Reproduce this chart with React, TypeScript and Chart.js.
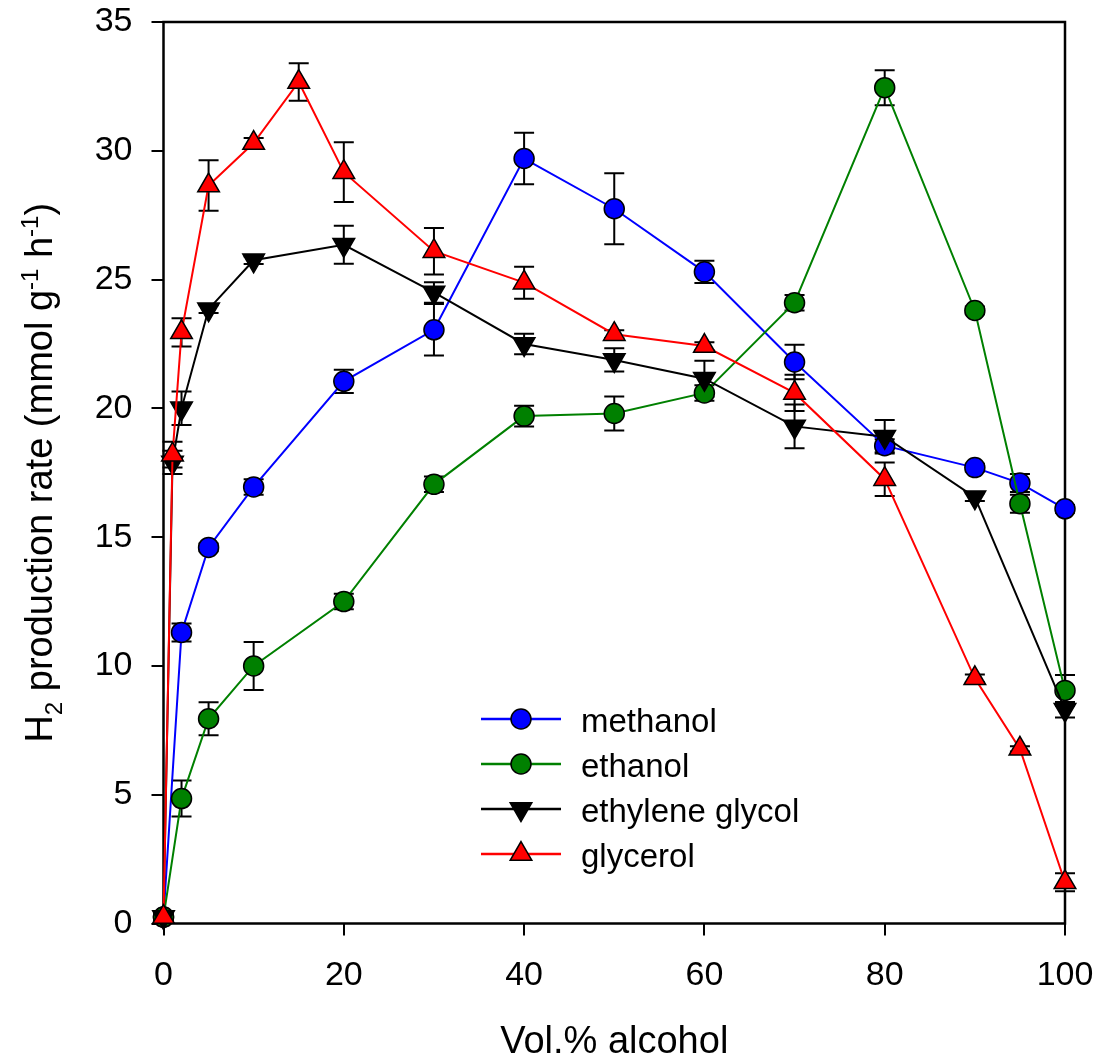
import React, { useEffect, useRef } from "react";
import { Chart, registerables } from "chart.js";

Chart.register(...registerables);

// ---------- data ----------
const methanolX = [0, 2, 5, 10, 20, 30, 40, 50, 60, 70, 80, 90, 95, 100];
const methanolY = [0.25, 11.3, 14.6, 16.95, 21.05, 23.05, 29.7, 27.75, 25.3, 21.8, 18.55, 17.7, 17.1, 16.1];
const methanolErr = [0.1, 0.35, 0.15, 0.3, 0.45, 1.0, 1.0, 1.38, 0.43, 0.67, 0.25, 0.15, 0.35, 0.15];

const ethanolX = [0, 2, 5, 10, 20, 30, 40, 50, 60, 70, 80, 90, 95, 100];
const ethanolY = [0.25, 4.85, 7.95, 10.0, 12.5, 17.05, 19.7, 19.8, 20.6, 24.1, 32.45, 23.8, 16.3, 9.05];
const ethanolErr = [0.1, 0.7, 0.64, 0.93, 0.3, 0.3, 0.4, 0.66, 0.3, 0.3, 0.68, 0.15, 0.35, 0.6];

const egX = [0, 1, 2, 5, 10, 20, 30, 40, 50, 60, 70, 80, 90, 100];
const egY = [0.25, 17.9, 20.0, 23.85, 25.75, 26.35, 24.5, 22.5, 21.88, 21.15, 19.3, 18.9, 16.55, 8.3];
const egErr = [0.1, 0.45, 0.65, 0.15, 0.15, 0.74, 0.4, 0.4, 0.45, 0.7, 0.85, 0.65, 0.15, 0.3];

const glyX = [0, 1, 2, 5, 10, 15, 20, 30, 40, 50, 60, 70, 80, 90, 95, 100];
const glyY = [0.25, 18.2, 22.95, 28.65, 30.3, 32.67, 29.17, 26.1, 24.88, 22.88, 22.42, 20.6, 17.25, 9.52, 6.78, 1.6];
const glyErr = [0.1, 0.5, 0.55, 0.98, 0.2, 0.73, 1.16, 0.9, 0.62, 0.15, 0.15, 0.7, 0.65, 0.15, 0.1, 0.35];

const seriesNames = ["methanol", "ethanol", "ethylene glycol", "glycerol"];
const seriesColors = ["#0000FF", "#008000", "#000000", "#FF0000"];

const xTicksMax = 100;
const yTicksMax = 35;

const FONT = "'Liberation Sans', Arial, sans-serif";

type Series = {
  name: string;
  color: string;
  xs: number[];
  ys: number[];
  errs: number[];
  style: "circle" | "triangle";
  rotation: number;
  radius: number;
};

const series: Series[] = [
  { name: seriesNames[0], color: seriesColors[0], xs: methanolX, ys: methanolY, errs: methanolErr, style: "circle", rotation: 0, radius: 10 },
  { name: seriesNames[1], color: seriesColors[1], xs: ethanolX, ys: ethanolY, errs: ethanolErr, style: "circle", rotation: 0, radius: 10 },
  { name: seriesNames[2], color: seriesColors[2], xs: egX, ys: egY, errs: egErr, style: "triangle", rotation: 180, radius: 12.5 },
  { name: seriesNames[3], color: seriesColors[3], xs: glyX, ys: glyY, errs: glyErr, style: "triangle", rotation: 0, radius: 12.5 },
];

function drawMarker(ctx: CanvasRenderingContext2D, s: Series, x: number, y: number) {
  ctx.save();
  ctx.beginPath();
  if (s.style === "circle") {
    ctx.arc(x, y, s.radius, 0, Math.PI * 2);
  } else {
    let rad = (s.rotation * Math.PI) / 180;
    const r = s.radius;
    ctx.moveTo(x + Math.sin(rad) * r, y - Math.cos(rad) * r);
    rad += (2 * Math.PI) / 3;
    ctx.lineTo(x + Math.sin(rad) * r, y - Math.cos(rad) * r);
    rad += (2 * Math.PI) / 3;
    ctx.lineTo(x + Math.sin(rad) * r, y - Math.cos(rad) * r);
    ctx.closePath();
  }
  ctx.fillStyle = s.color;
  ctx.fill();
  ctx.lineWidth = 1.5;
  ctx.strokeStyle = "#000";
  ctx.stroke();
  ctx.restore();
}

type Seg = { t: string; k: "n" | "sub" | "sup" };

function drawRich(ctx: CanvasRenderingContext2D, segs: Seg[], cx: number, baseY: number, size: number, small: number) {
  const fontFor = (k: string) => `${k === "n" ? size : small}px ${FONT}`;
  let total = 0;
  const widths = segs.map((s) => {
    ctx.font = fontFor(s.k);
    const w = ctx.measureText(s.t).width;
    total += w;
    return w;
  });
  let x = cx - total / 2;
  ctx.textAlign = "left";
  ctx.textBaseline = "alphabetic";
  segs.forEach((s, i) => {
    ctx.font = fontFor(s.k);
    const dy = s.k === "sub" ? size * 0.26 : s.k === "sup" ? -size * 0.38 : 0;
    ctx.fillText(s.t, x, baseY + dy);
    x += widths[i];
  });
}

const yTitle: Seg[] = [
  { t: "H", k: "n" },
  { t: "2", k: "sub" },
  { t: " production rate (mmol g", k: "n" },
  { t: "-1", k: "sup" },
  { t: " h", k: "n" },
  { t: "-1", k: "sup" },
  { t: ")", k: "n" },
];

const decorPlugin = {
  id: "decor",
  beforeDatasetsDraw(chart: any) {
    const { ctx, chartArea: a, scales } = chart;
    const xs = scales.x;
    const ys = scales.y;
    // frame
    ctx.save();
    ctx.strokeStyle = "#000";
    ctx.lineWidth = 2.5;
    ctx.strokeRect(a.left, a.top, a.right - a.left, a.bottom - a.top);
    ctx.restore();
    // error bars
    ctx.save();
    ctx.strokeStyle = "#000";
    ctx.lineWidth = 2;
    series.forEach((s) => {
      s.xs.forEach((xv, i) => {
        const e = s.errs[i];
        const px = xs.getPixelForValue(xv);
        const top = ys.getPixelForValue(s.ys[i] + e);
        const bot = ys.getPixelForValue(s.ys[i] - e);
        ctx.beginPath();
        ctx.moveTo(px, top);
        ctx.lineTo(px, bot);
        ctx.moveTo(px - 10, top);
        ctx.lineTo(px + 10, top);
        ctx.moveTo(px - 10, bot);
        ctx.lineTo(px + 10, bot);
        ctx.stroke();
      });
    });
    ctx.restore();
  },
  afterDraw(chart: any) {
    const { ctx, chartArea: a } = chart;
    ctx.save();
    ctx.fillStyle = "#000";
    // x title
    ctx.font = `38px ${FONT}`;
    ctx.textAlign = "center";
    ctx.textBaseline = "alphabetic";
    ctx.fillText("Vol.% alcohol", (a.left + a.right) / 2, 1053);
    // y title
    ctx.save();
    ctx.translate(52, (a.top + a.bottom) / 2);
    ctx.rotate(-Math.PI / 2);
    drawRich(ctx, yTitle, 0, 0, 38, 24);
    ctx.restore();
    // legend
    const rows = [719, 764, 809, 854];
    series.forEach((s, i) => {
      const y = rows[i];
      ctx.save();
      ctx.strokeStyle = s.color;
      ctx.lineWidth = 2.5;
      ctx.beginPath();
      ctx.moveTo(481, y);
      ctx.lineTo(561, y);
      ctx.stroke();
      ctx.restore();
      drawMarker(ctx, s, 521, y);
      ctx.fillStyle = "#000";
      ctx.font = `33px ${FONT}`;
      ctx.textAlign = "left";
      ctx.textBaseline = "alphabetic";
      ctx.fillText(s.name, 581, y + 13);
    });
    ctx.restore();
  },
};

export default function App() {
  const ref = useRef<HTMLCanvasElement | null>(null);
  useEffect(() => {
    if (!ref.current) return;
    const datasets = series.map((s, i) => ({
      label: s.name,
      data: s.xs.map((x, j) => ({ x, y: s.ys[j] })),
      borderColor: s.color,
      backgroundColor: s.color,
      borderWidth: 2,
      pointStyle: s.style,
      rotation: s.rotation,
      pointRadius: s.radius,
      pointBorderColor: "#000",
      pointBorderWidth: 1.5,
      pointBackgroundColor: s.color,
      tension: 0,
      clip: false as any,
      order: series.length - 1 - i,
    }));
    const tickFont = { family: FONT, size: 34 };
    const chart = new Chart(ref.current, {
      type: "line",
      data: { datasets },
      options: {
        responsive: false,
        animation: false,
        layout: { padding: { top: 22, right: 36, left: 0, bottom: 0 } },
        plugins: { legend: { display: false }, tooltip: { enabled: false } },
        scales: {
          x: {
            type: "linear",
            min: 0,
            max: xTicksMax,
            ticks: { stepSize: 20, color: "#000", font: tickFont, padding: 20, maxRotation: 0 },
            grid: { display: true, drawOnChartArea: false, drawTicks: true, tickLength: 12, color: "#000", lineWidth: 2 },
            border: { display: false },
            afterFit: (scale: any) => {
              scale.height = 137.5;
              scale.paddingLeft = 0;
              scale.paddingRight = 0;
            },
          },
          y: {
            type: "linear",
            min: 0,
            max: yTicksMax,
            ticks: { stepSize: 5, color: "#000", font: tickFont, padding: 19 },
            grid: { display: true, drawOnChartArea: false, drawTicks: true, tickLength: 12, color: "#000", lineWidth: 2 },
            border: { display: false },
            afterFit: (scale: any) => {
              scale.width = 163.5;
              scale.paddingTop = 0;
              scale.paddingBottom = 0;
            },
          },
        },
      },
      plugins: [decorPlugin],
    });
    return () => chart.destroy();
  }, []);
  return (
    <div style={{ position: "absolute", left: 0, top: 0, width: 1101, height: 1061, background: "#fff" }}>
      <canvas ref={ref} width={1101} height={1061} style={{ display: "block" }} />
    </div>
  );
}
